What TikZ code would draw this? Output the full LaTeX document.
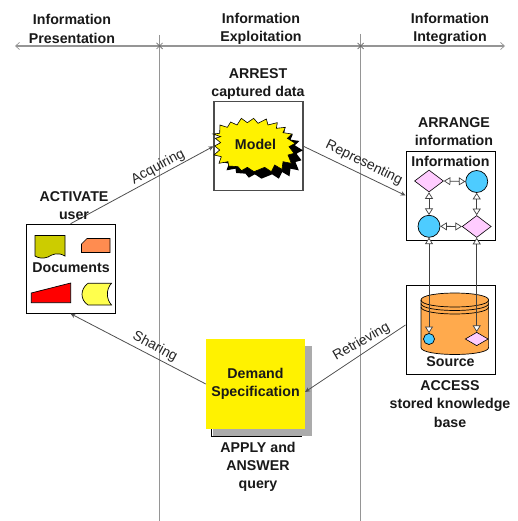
\documentclass[tikz,border=0pt]{standalone}
\usepackage{fontspec}
\setmainfont{Liberation Sans}
\usetikzlibrary{arrows.meta,shapes.geometric}
\definecolor{axisgray}{HTML}{959595}
\definecolor{linkgray}{HTML}{505050}
\definecolor{pinkfill}{HTML}{FFCCFF}
\definecolor{cyanfill}{HTML}{4DCCFF}
\definecolor{cylfill}{HTML}{FFAA4D}
\definecolor{olivefill}{HTML}{CCCC00}
\definecolor{orangefill}{HTML}{FF8C50}
\definecolor{lightyellow}{HTML}{FFFF4D}
\definecolor{shadowgray}{HTML}{ABABAB}
\tikzset{
  x=1pt,y=-1pt,
  axisline/.style={draw=axisgray,line width=1.3pt},
  axisarrow/.style={axisline,{Straight Barb[length=4pt,width=7pt,line width=.7pt]}-{Straight Barb[length=4pt,width=7pt,line width=.7pt]}},
  frame/.style={draw=black,line width=.9pt,fill=white,minimum width=89pt,minimum height=89pt,inner sep=0pt},
  heading/.style={font=\fontsize{14.2}{18.2}\selectfont\bfseries,align=center,inner sep=0pt,text=black!90},
  linklabel/.style={font=\fontsize{14}{16}\selectfont,inner sep=0pt,text=black!85},
  link/.style={draw=linkgray,line width=.8pt,-{Stealth[length=5pt,width=4.5pt]}},
  dbl/.style={draw=black!75,line width=.8pt,{Triangle[length=6.5pt,width=8pt,fill=white,line width=.7pt]}-{Triangle[length=6.5pt,width=8pt,fill=white,line width=.7pt]}},
  pinkdiamond/.style={diamond,aspect=1.32,draw=black,line width=.6pt,fill=pinkfill,inner sep=0pt},
  bluecircle/.style={circle,draw=black,line width=.7pt,fill=cyanfill,inner sep=0pt},
  outl/.style={draw=black,line width=.7pt},
}
\begin{document}
\begin{tikzpicture}
\useasboundingbox (0,0) rectangle (518,521);
\fill[white] (0,0) rectangle (518,521);
% axes
\coordinate (leftend) at (15,46);
\coordinate (rightend) at (505,46);
\coordinate (axa) at (159.5,35);
\coordinate (axab) at (159.5,521);
\coordinate (axb) at (360.7,34);
\coordinate (axbb) at (360.7,521);
\draw[axisarrow] (leftend) -- (rightend);
\draw[axisline] (axa) -- (axab);
\draw[axisline] (axb) -- (axbb);
\foreach \px in {159.5,360.7}{
  \draw[draw=axisgray!70!black,line width=.7pt] (\px-3,43) -- (\px+3,49) (\px-3,49) -- (\px+3,43);
}
% headers
\node[heading] (h1) at (72,29) {Information\\Presentation};
\node[heading] (h2) at (261,29) {Information\\Exploitation};
\node[heading] (h3) at (450,29) {Information\\Integration};
% frames
\node[frame] (act) at (70.5,268.7) {};
\node[frame,draw=black!70,line width=1.1pt] (model) at (258.5,146.3) {};
\node[frame] (info) at (450.5,195.5) {};
\node[frame] (source) at (450.5,329.7) {};
\node[frame,minimum width=89.5pt] (demandback) at (256.5,392) {};
% demand
\fill[shadowgray] (213,346) rectangle (312,436);
\node[fill=yellow,minimum width=99pt,minimum height=90pt,inner sep=0pt,font=\fontsize{14.2}{18.2}\selectfont\bfseries,align=center,text=black!90] (demand) at (255.5,384) {Demand\\Specification};
% star
\begin{scope}[shift={(215.5pt,-117pt)},x=.3333pt,y=-.3333pt]
\fill[black] (15,72)--(35,70)--(36,45)--(58,52)--(68,36)--(87,45)--(100,25)--(118,38)--(137,25)--(150,40)--(175,27)--(180,45)--(208,38)--(205,55)--(232,52)--(225,68)--(252,72)--(238,85)--(262,100)--(243,110)--(258,130)--(240,135)--(250,160)--(225,155)--(222,178)--(200,165)--(190,185)--(170,172)--(138,185)--(118,172)--(100,182)--(90,170)--(62,168)--(60,155)--(33,160)--(40,140)--(18,135)--(35,120)--(20,108)--(38,98)--(22,85)--(38,80)--cycle;
\end{scope}
\begin{scope}[shift={(208pt,-110pt)},x=.3333pt,y=-.3333pt]
\filldraw[draw=black,line width=.6pt,fill=yellow] (15,72)--(35,70)--(36,45)--(58,52)--(68,36)--(87,45)--(100,25)--(118,38)--(137,25)--(150,40)--(175,27)--(180,45)--(208,38)--(205,55)--(232,52)--(225,68)--(252,72)--(238,85)--(262,100)--(243,110)--(258,130)--(240,135)--(250,160)--(225,155)--(222,178)--(200,165)--(190,185)--(170,172)--(138,185)--(118,172)--(100,182)--(90,170)--(62,168)--(60,155)--(33,160)--(40,140)--(18,135)--(35,120)--(20,108)--(38,98)--(22,85)--(38,80)--cycle;
\end{scope}
\node[heading] (modellabel) at (255.5,144) {Model};
% document shapes
\filldraw[outl,fill=olivefill] (35,235.5) -- (65,235.5) -- (65,256) .. controls (58,252) and (53,254) .. (48,257) .. controls (43,259) and (38,258) .. (35,256) -- cycle;
\filldraw[outl,fill=orangefill] (87,238.5) -- (110,238.5) -- (110,252.5) -- (81.5,252.5) -- (81.5,244) -- cycle;
\filldraw[outl,fill=red] (31.3,293) -- (70.7,283) -- (70.7,302.7) -- (31.3,302.7) -- cycle;
\filldraw[outl,fill=lightyellow] (88,283.3) -- (111.5,283.3) .. controls (106,289) and (106,299) .. (111.5,305) -- (88,305) .. controls (80,300) and (80,289) .. (88,283.3) -- cycle;
\node[heading] (docs) at (71,268) {Documents};
% cylinder
\filldraw[outl,fill=cylfill] (421,300) -- (421,347.5) .. controls (421,356.8) and (488.6,356.8) .. (488.6,347.5) -- (488.6,300) .. controls (488.6,290.7) and (421,290.7) .. (421,300) -- cycle;
\draw[outl] (421,300) .. controls (421,309.3) and (488.6,309.3) .. (488.6,300);
\draw[outl] (421,303.5) .. controls (421,312.8) and (488.6,312.8) .. (488.6,303.5);
\draw[outl] (421,307) .. controls (421,316.3) and (488.6,316.3) .. (488.6,307);
\node[heading] (srclabel) at (450.5,362) {Source};
\node[bluecircle,minimum size=11pt] (srccircle) at (429,339) {};
\node[pinkdiamond,minimum width=23pt,minimum height=13.5pt,aspect=1.7] (srcdiamond) at (476.7,339) {};
% information graph
\node[heading] (infolabel) at (450.5,161) {Information};
\node[pinkdiamond,minimum width=29pt,minimum height=22pt] (d1) at (429,181) {};
\node[bluecircle,minimum size=22pt] (c1) at (476.7,181.5) {};
\node[bluecircle,minimum size=22pt] (c2) at (429,226.3) {};
\node[pinkdiamond,minimum width=29pt,minimum height=22pt] (d2) at (476.7,226.5) {};
\draw[dbl] (d1.east) -- (c1.west);
\draw[dbl] (d1.south) -- (c2.north);
\draw[dbl] (c1.south) -- (d2.north);
\draw[dbl] (c2.east) -- (d2.west);
\draw[dbl] (c2.south) -- (srccircle.north);
\draw[dbl] (d2.south) -- (srcdiamond.north);
% connectors
\coordinate (demandin) at (305,392);
\coordinate (srcout) at (405.5,325);
\draw[link] (act.north) -- (model.west);
\draw[link] (model.east) -- (info.west);
\draw[link] (srcout) -- (demandin);
\draw[link] (demand.west) -- (act.south);
\node[linklabel,rotate=28.3] (acq) at (158,167) {Acquiring};
\node[linklabel,rotate=-26] (rep) at (364,163) {Representing};
\node[linklabel,rotate=30] (ret) at (361.5,342) {Retrieving};
\node[linklabel,rotate=-28] (sha) at (155,347) {Sharing};
% labels
\node[heading] (l1) at (258,84) {ARREST\\captured data};
\node[heading] (l2) at (454,131.5) {ARRANGE\\information};
\node[heading] (l3) at (74,206) {ACTIVATE\\user};
\node[heading] (l4) at (450,404) {ACCESS\\stored knowledge\\base};
\node[heading] (l5) at (258,467) {APPLY and\\ANSWER\\query};
\end{tikzpicture}
\end{document}
